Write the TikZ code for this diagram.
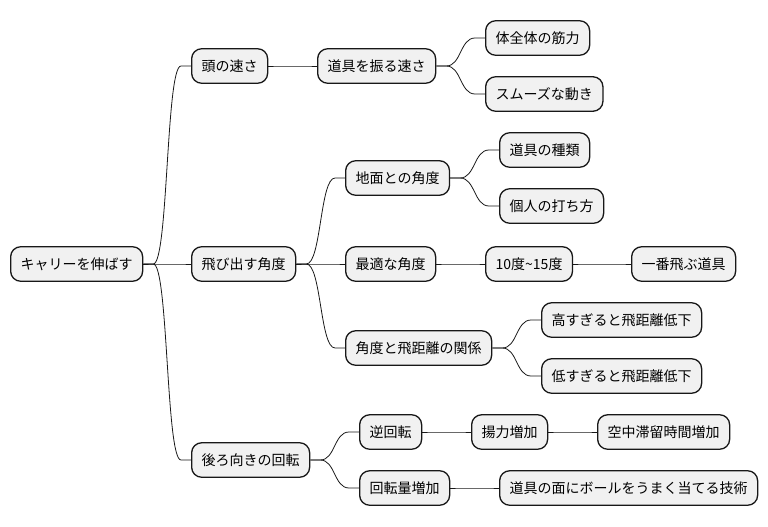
\documentclass[tikz,border=0pt]{standalone}
\usepackage{fontspec}
\setmainfont{Noto Sans CJK JP}
\usepackage{tikz}
\usetikzlibrary{shapes}
\definecolor{boxfill}{HTML}{F1F1F1}
\definecolor{boxline}{HTML}{181818}
\newcommand{\branch}[2]{\draw[edge] (#1.east) -- ++(10bp,0) .. controls +(15bp,0) and +(-15bp,0) .. ([xshift=-10bp]#2.west) -- (#2.west);}

\begin{document}
\begin{tikzpicture}[topic/.style={draw=boxline, fill=boxfill, rounded corners=10bp, line width=1.3bp, minimum height=34.5bp, inner xsep=10bp, anchor=west, font=\fontsize{14bp}{17bp}\selectfont}, edge/.style={draw=boxline, line width=0.8bp}]
  \useasboundingbox (0bp, 0bp) rectangle (768bp, -527bp);
  % Root and first level
  \node (root) at (10bp, -264bp) [topic] {キャリーを伸ばす};
  \node (head) at (191bp, -66bp) [topic] {頭の速さ};
  \node (launch) at (191bp, -264bp) [topic] {飛び出す角度};
  \node (spin) at (191bp, -460bp) [topic] {後ろ向きの回転};

  % Second level
  \node (swing) at (317bp, -66bp) [topic] {道具を振る速さ};
  \node (ground) at (345bp, -178bp) [topic] {地面との角度};
  \node (best) at (345bp, -264bp) [topic] {最適な角度};
  \node (relation) at (345bp, -348bp) [topic] {角度と飛距離の関係};
  \node (backspin) at (359bp, -432bp) [topic] {逆回転};
  \node (amount) at (359bp, -488bp) [topic] {回転量増加};

  % Third level
  \node (muscle) at (485bp, -38bp) [topic] {体全体の筋力};
  \node (smooth) at (485bp, -94bp) [topic] {スムーズな動き};
  \node (kind) at (499bp, -150bp) [topic] {道具の種類};
  \node (hitting) at (499bp, -206bp) [topic] {個人の打ち方};
  \node (range) at (485bp, -264bp) [topic] {10度\char"007E 15度};
  \node (high) at (541bp, -320bp) [topic] {高すぎると飛距離低下};
  \node (low) at (541bp, -376bp) [topic] {低すぎると飛距離低下};
  \node (lift) at (471bp, -432bp) [topic] {揚力増加};
  \node (skill) at (499bp, -488bp) [topic] {道具の面にボールをうまく当てる技術};

  % Fourth level
  \node (farthest) at (631bp, -264bp) [topic] {一番飛ぶ道具};
  \node (hang) at (597bp, -432bp) [topic] {空中滞留時間増加};

  % Edges
  \branch{root}{head}
  \branch{root}{launch}
  \branch{root}{spin}
  \branch{head}{swing}
  \branch{swing}{muscle}
  \branch{swing}{smooth}
  \branch{launch}{ground}
  \branch{launch}{best}
  \branch{launch}{relation}
  \branch{ground}{kind}
  \branch{ground}{hitting}
  \branch{best}{range}
  \branch{range}{farthest}
  \branch{relation}{high}
  \branch{relation}{low}
  \branch{spin}{backspin}
  \branch{spin}{amount}
  \branch{backspin}{lift}
  \branch{lift}{hang}
  \branch{amount}{skill}
\end{tikzpicture}
\end{document}
